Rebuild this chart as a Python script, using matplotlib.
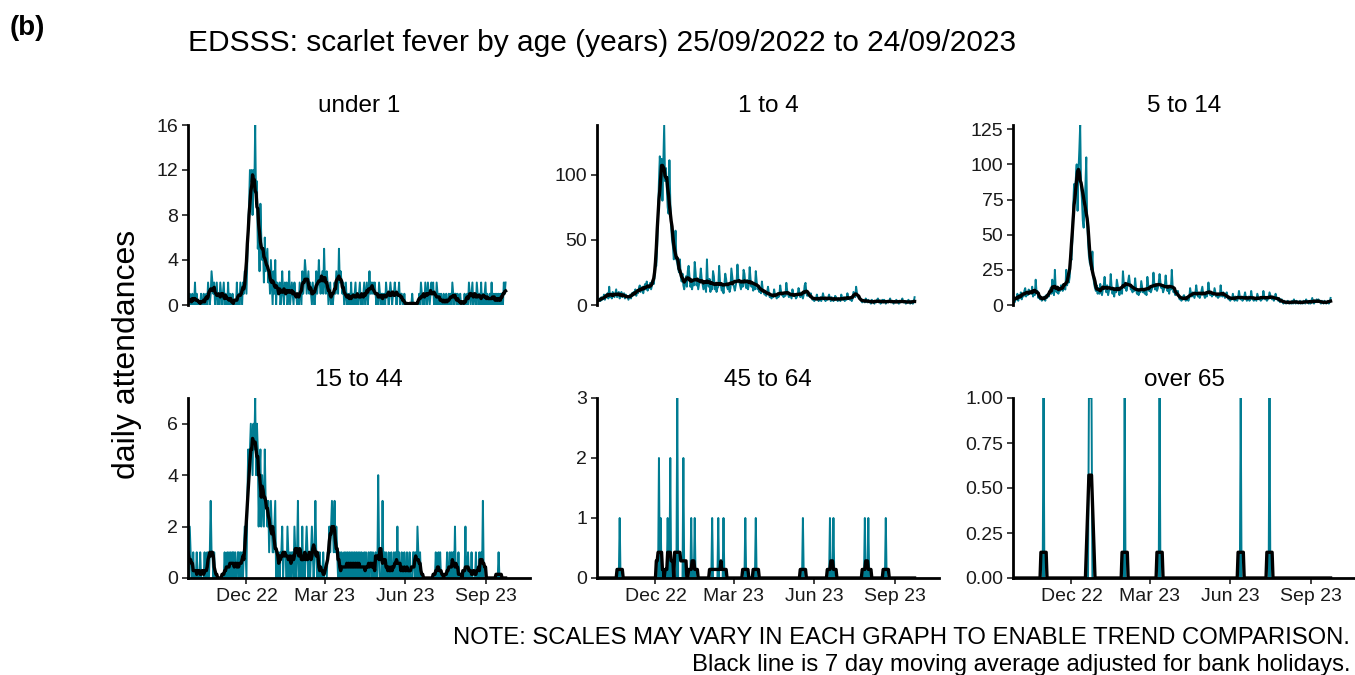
import numpy as np
import pandas as pd
import matplotlib as mpl
mpl.use('Agg')
import matplotlib.pyplot as plt
import matplotlib.dates as mdates
from matplotlib.ticker import FormatStrFormatter

plt.rcParams['font.family'] = ['Liberation Sans', 'DejaVu Sans']

start = '2022-09-25'
end = '2023-09-24'

# daily counts, one row per week (Sun..Sat), last row = final Sunday
under1 = [
    [1, 0, 1, 0, 0, 1, 0], [0, 2, 0, 1, 0, 0, 0], [0, 1, 0, 0, 1, 0, 0], [1, 0, 2, 1, 0, 1, 3],
    [2, 1, 2, 0, 1, 2, 0], [1, 0, 2, 1, 0, 1, 2], [0, 1, 0, 0, 2, 0, 1], [0, 0, 1, 0, 0, 0, 0],
    [2, 0, 1, 0, 2, 1, 0], [2, 1, 3, 2, 1, 4, 7], [9, 12, 11, 12, 8, 12, 10], [16, 9, 11, 5, 7, 3, 9],
    [6, 4, 5, 2, 6, 3, 4], [5, 2, 3, 1, 4, 2, 0], [3, 1, 4, 0, 2, 1, 1], [2, 0, 1, 3, 1, 0, 2],
    [1, 2, 0, 1, 3, 0, 1], [2, 1, 0, 2, 1, 1, 0], [1, 0, 2, 1, 0, 3, 1], [2, 4, 3, 1, 2, 3, 1],
    [2, 1, 0, 2, 1, 0, 1], [3, 1, 2, 4, 2, 1, 2], [3, 1, 5, 2, 1, 3, 2], [0, 1, 2, 0, 1, 0, 1],
    [2, 1, 3, 2, 1, 5, 2], [3, 2, 1, 2, 0, 1, 2], [0, 1, 0, 1, 0, 2, 0], [1, 0, 1, 2, 0, 1, 0],
    [1, 2, 0, 1, 0, 1, 2], [0, 1, 2, 0, 1, 3, 1], [2, 1, 2, 1, 2, 1, 0], [1, 0, 2, 1, 0, 1, 1],
    [0, 1, 0, 2, 1, 1, 0], [1, 2, 1, 0, 1, 1, 2], [1, 0, 1, 1, 2, 0, 1], [1, 0, 0, 1, 0, 0, 0],
    [0, 0, 0, 0, 0, 1, 0], [0, 0, 0, 0, 0, 0, 1], [0, 2, 1, 0, 1, 0, 2], [1, 0, 2, 1, 0, 1, 2],
    [1, 2, 0, 1, 0, 2, 1], [0, 1, 0, 1, 0, 0, 1], [0, 0, 1, 0, 0, 1, 0], [1, 0, 2, 1, 0, 1, 1],
    [0, 1, 0, 0, 1, 0, 0], [0, 0, 1, 0, 0, 1, 0], [2, 1, 0, 1, 2, 0, 1], [1, 0, 2, 1, 0, 1, 0],
    [2, 0, 1, 0, 1, 2, 0], [1, 0, 0, 1, 0, 2, 0], [1, 0, 1, 0, 1, 0, 1], [0, 1, 0, 1, 0, 2, 1],
    [2],
]

age1_4 = [
    [2, 4, 3, 5, 3, 6, 4], [5, 8, 4, 7, 6, 9, 5], [14, 6, 8, 5, 10, 7, 6], [9, 12, 6, 8, 10, 5, 8],
    [10, 6, 7, 9, 5, 8, 6], [7, 4, 6, 8, 5, 9, 7], [10, 8, 12, 7, 11, 9, 13], [15, 10, 12, 14, 9, 13, 16],
    [12, 18, 11, 15, 13, 17, 12], [15, 18, 16, 22, 29, 30, 45], [70, 95, 114, 100, 112, 80, 110],
    [138, 95, 105, 90, 75, 70, 111], [80, 60, 50, 45, 35, 40, 57], [35, 32, 28, 25, 35, 22, 18],
    [24, 15, 12, 18, 22, 14, 26], [30, 22, 14, 16, 12, 18, 15], [33, 25, 15, 18, 12, 16, 20],
    [28, 20, 16, 12, 18, 14, 10], [35, 18, 14, 20, 10, 16, 12], [26, 22, 12, 15, 10, 13, 14],
    [30, 18, 15, 11, 14, 9, 16], [24, 20, 14, 12, 16, 10, 13], [28, 22, 16, 14, 11, 15, 18],
    [31, 20, 18, 15, 12, 17, 14], [27, 24, 16, 13, 19, 12, 15], [29, 20, 14, 17, 11, 16, 12],
    [26, 18, 12, 14, 10, 12, 9], [18, 12, 10, 8, 9, 7, 10], [14, 9, 6, 8, 5, 7, 6],
    [12, 8, 7, 5, 9, 6, 8], [15, 10, 8, 7, 6, 9, 7], [17, 11, 8, 6, 9, 7, 5],
    [12, 9, 7, 8, 5, 6, 8], [13, 10, 6, 9, 7, 5, 8], [15, 17, 9, 7, 10, 8, 6],
    [9, 6, 4, 5, 3, 4, 5], [8, 5, 3, 4, 6, 3, 5], [9, 6, 4, 3, 5, 4, 6],
    [8, 5, 3, 6, 4, 3, 4], [7, 6, 4, 3, 5, 4, 3], [8, 5, 4, 6, 3, 5, 4],
    [9, 6, 5, 4, 6, 3, 5], [10, 8, 6, 14, 9, 7, 5], [6, 4, 3, 2, 4, 3, 2],
    [5, 3, 2, 4, 2, 3, 1], [4, 3, 2, 1, 3, 2, 4], [5, 2, 3, 1, 2, 4, 2],
    [4, 3, 1, 2, 3, 2, 3], [5, 2, 3, 2, 1, 3, 2], [4, 3, 2, 1, 3, 2, 3],
    [5, 2, 3, 2, 1, 2, 3], [4, 2, 1, 3, 2, 1, 2],
    [6],
]

age5_14 = [
    [3, 6, 2, 5, 4, 8, 3], [7, 5, 9, 4, 8, 6, 10], [12, 6, 9, 7, 11, 8, 9], [8, 13, 6, 10, 7, 18, 9],
    [10, 5, 7, 4, 6, 3, 5], [4, 6, 3, 7, 5, 8, 6], [9, 12, 8, 18, 10, 7, 25], [11, 9, 13, 8, 12, 10, 14],
    [13, 10, 15, 12, 11, 25, 14], [18, 16, 20, 35, 32, 45, 70], [86, 75, 90, 100, 67, 95, 110],
    [128, 85, 75, 60, 55, 70, 85], [105, 60, 45, 35, 30, 28, 25], [38, 20, 15, 12, 10, 14, 8],
    [12, 8, 15, 10, 7, 11, 14], [20, 12, 9, 14, 7, 10, 11], [22, 13, 8, 11, 6, 12, 9],
    [18, 14, 10, 7, 12, 9, 8], [24, 16, 12, 15, 10, 13, 17], [21, 15, 11, 13, 9, 12, 10],
    [19, 12, 8, 10, 7, 11, 9], [17, 13, 9, 11, 8, 10, 7], [20, 14, 10, 12, 9, 11, 13],
    [23, 15, 11, 14, 10, 12, 16], [22, 16, 12, 13, 9, 11, 14], [21, 14, 10, 12, 8, 13, 11],
    [25, 13, 9, 11, 7, 10, 8], [10, 6, 4, 5, 3, 4, 6], [7, 5, 3, 4, 6, 3, 5],
    [12, 8, 6, 9, 7, 5, 8], [14, 9, 6, 8, 5, 7, 10], [13, 8, 7, 5, 9, 6, 8],
    [16, 10, 7, 9, 6, 8, 7], [12, 9, 6, 8, 5, 7, 6], [14, 8, 6, 9, 7, 5, 8],
    [9, 6, 4, 5, 3, 5, 4], [8, 5, 3, 6, 4, 3, 5], [10, 6, 4, 5, 3, 4, 6],
    [9, 5, 3, 4, 6, 3, 4], [10, 6, 4, 3, 5, 4, 3], [8, 6, 4, 5, 3, 5, 4],
    [10, 6, 4, 5, 3, 4, 5], [9, 7, 5, 4, 6, 3, 5], [8, 5, 4, 3, 5, 2, 4],
    [4, 2, 1, 3, 2, 1, 2], [3, 2, 1, 2, 1, 3, 1], [4, 2, 1, 3, 2, 1, 2],
    [3, 1, 2, 1, 3, 2, 1], [4, 2, 3, 1, 2, 1, 3], [5, 2, 1, 3, 2, 4, 2],
    [4, 3, 2, 1, 3, 2, 1], [3, 2, 1, 2, 3, 1, 2],
    [5],
]

age15_44 = [
    [1, 0, 2, 1, 0, 0, 1], [0, 0, 0, 1, 0, 0, 0], [1, 0, 0, 0, 0, 1, 0], [0, 1, 0, 0, 1, 3, 1],
    [1, 0, 1, 0, 0, 0, 0], [0, 0, 0, 0, 0, 0, 0], [1, 0, 0, 1, 0, 1, 0], [1, 0, 1, 1, 0, 1, 0],
    [0, 1, 1, 0, 1, 0, 1], [0, 1, 2, 1, 0, 3, 5], [4, 5, 6, 5, 4, 6, 5], [7, 4, 6, 5, 2, 4, 5],
    [2, 4, 3, 2, 5, 3, 3], [2, 3, 1, 2, 3, 2, 1], [1, 2, 3, 0, 1, 0, 1], [0, 1, 1, 2, 0, 1, 1],
    [1, 0, 2, 1, 0, 1, 0], [1, 1, 0, 2, 1, 0, 1], [3, 0, 1, 1, 0, 2, 0], [1, 0, 1, 2, 1, 0, 1],
    [0, 1, 2, 1, 0, 1, 3], [1, 0, 1, 0, 1, 0, 0], [0, 1, 0, 0, 0, 0, 1], [1, 2, 1, 2, 3, 2, 1],
    [3, 1, 2, 1, 0, 0, 1], [0, 1, 0, 0, 1, 0, 1], [0, 1, 0, 1, 0, 1, 0], [1, 0, 1, 0, 1, 0, 1],
    [0, 1, 0, 1, 0, 0, 1], [0, 1, 0, 0, 1, 0, 1], [1, 0, 1, 0, 0, 1, 0], [0, 4, 1, 0, 0, 0, 3],
    [0, 1, 0, 1, 0, 0, 1], [0, 0, 1, 0, 0, 1, 0], [1, 0, 2, 0, 1, 0, 0], [1, 0, 0, 1, 0, 0, 1],
    [0, 0, 1, 0, 0, 0, 1], [1, 0, 1, 0, 2, 1, 0], [1, 0, 0, 0, 0, 0, 0], [0, 0, 0, 0, 0, 0, 0],
    [0, 0, 0, 0, 1, 0, 0], [1, 0, 1, 0, 0, 0, 0], [0, 0, 0, 1, 0, 0, 1], [0, 1, 0, 1, 0, 2, 0],
    [0, 0, 1, 0, 0, 0, 0], [0, 0, 0, 2, 0, 0, 1], [0, 0, 0, 1, 0, 0, 0], [0, 1, 0, 0, 0, 1, 0],
    [1, 0, 3, 0, 0, 0, 0], [0, 0, 0, 0, 0, 0, 0], [0, 0, 0, 0, 0, 0, 1], [0, 0, 0, 0, 0, 0, 0],
    [0],
]

# sparse groups: only the days with attendances
age45_64_dates = ['2022-10-21', '2022-12-05', '2022-12-07', '2022-12-15', '2022-12-18',
                  '2022-12-26', '2023-01-02', '2023-01-11', '2023-01-15', '2023-02-04',
                  '2023-02-11', '2023-02-17', '2023-03-14', '2023-03-26', '2023-05-19',
                  '2023-06-19', '2023-06-23', '2023-07-29', '2023-08-02', '2023-08-22']
age45_64_counts = [1, 2, 1, 1, 2, 3, 2, 1, 1, 1, 1, 1, 1, 1, 1, 1, 1, 1, 1, 1]

over65_dates = ['2022-10-30', '2022-12-21', '2022-12-22', '2022-12-23', '2022-12-24',
                '2023-01-31', '2023-03-12', '2023-06-13', '2023-07-16']
over65_counts = [1, 1, 1, 1, 1, 1, 1, 1, 1]

titles = ['under 1', '1 to 4', '5 to 14', '15 to 44', '45 to 64', 'over 65']
yticks = [[0, 4, 8, 12, 16], [0, 50, 100], [0, 25, 50, 75, 100, 125],
          [0, 2, 4, 6], [0, 1, 2, 3], [0, 0.25, 0.5, 0.75, 1.0]]

teal = '#007C92'
days = pd.date_range(start, end, freq='D')


def weekly(rows):
    return pd.Series(np.concatenate([np.array(r, dtype=float) for r in rows]), index=days)


def sparse(dates, counts):
    s = pd.Series(0.0, index=days)
    s.loc[pd.to_datetime(dates)] = counts
    return s


series = [weekly(under1), weekly(age1_4), weekly(age5_14), weekly(age15_44),
          sparse(age45_64_dates, age45_64_counts), sparse(over65_dates, over65_counts)]

fig = plt.figure(figsize=(13.55, 6.75), dpi=100)
lefts = [188 / 1355, 597 / 1355, 1013 / 1355]
bottoms = [1 - 305 / 675, 1 - 578 / 675]
w = 342 / 1355
h = 180 / 675
xmax = pd.Timestamp(start) + pd.Timedelta(days=392)

for i, (s, name) in enumerate(zip(series, titles)):
    row, col = divmod(i, 3)
    ax = fig.add_axes([lefts[col], bottoms[row], w, h])
    ma = s.rolling(7, center=True, min_periods=1).mean()
    ax.plot(s.index, s.values, color=teal, lw=1.4, zorder=2)
    ax.plot(ma.index, ma.values, color='black', lw=2.4, zorder=3)
    ax.set_xlim(pd.Timestamp(start), xmax)
    ax.set_ylim(0, max(s.max(), yticks[i][-1]))
    ax.set_yticks(yticks[i])
    if i == 5:
        ax.yaxis.set_major_formatter(FormatStrFormatter('%.2f'))
    ax.set_title(name, fontsize=17.5, pad=9)
    for sp in ['top', 'right']:
        ax.spines[sp].set_visible(False)
    ax.spines['left'].set_linewidth(2)
    ax.spines['bottom'].set_linewidth(2)
    ax.tick_params(axis='both', labelsize=14, colors='#333333', length=4, width=1.3,
                   labelcolor='#1a1a1a', pad=3)
    ax.xaxis.set_major_locator(mdates.MonthLocator(bymonth=[12, 3, 6, 9]))
    ax.xaxis.set_major_formatter(mdates.DateFormatter('%b %y'))
    if row == 0:
        ax.spines['bottom'].set_visible(False)
        ax.tick_params(axis='x', bottom=False, labelbottom=False)

fig.text(0.007, 1 - 28 / 675, '(b)', fontsize=20, fontweight='bold', va='center', ha='left')
fig.text(188 / 1355, 1 - 43 / 675, 'EDSSS: scarlet fever by age (years) 25/09/2022 to 24/09/2023',
         fontsize=21.5, va='center', ha='left')
fig.text(127 / 1355, 1 - 354 / 675, 'daily attendances', fontsize=23, rotation=90,
         va='center', ha='center')
fig.text(1350 / 1355, 1 - 638 / 675,
         'NOTE: SCALES MAY VARY IN EACH GRAPH TO ENABLE TREND COMPARISON.',
         fontsize=17.2, ha='right', va='center')
fig.text(1350 / 1355, 1 - 665 / 675,
         'Black line is 7 day moving average adjusted for bank holidays.',
         fontsize=17.2, ha='right', va='center')

fig.savefig('out.png', dpi=100)
